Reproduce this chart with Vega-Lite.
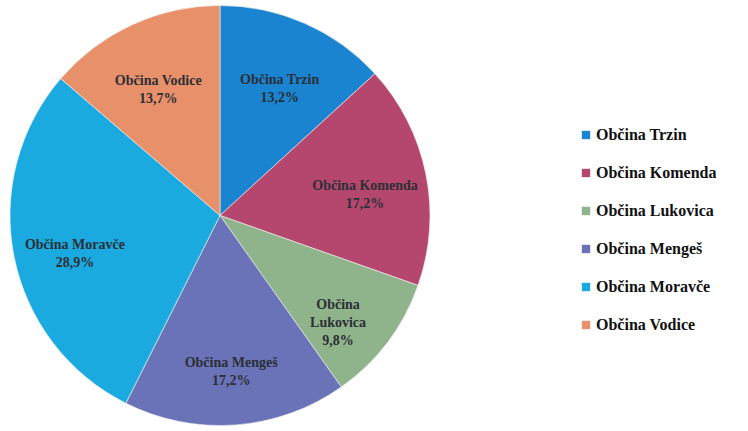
{
  "$schema": "https://vega.github.io/schema/vega-lite/v6.json",
  "width": 440,
  "height": 431,
  "padding": 0,
  "autosize": {"type": "pad"},
  "background": "white",
  "view": {"stroke": null},
  "data": {
    "values": [
      {"i": 1, "obcina": "Občina Trzin", "delez": 13.2, "label": "Občina Trzin\n13,2%"},
      {"i": 2, "obcina": "Občina Komenda", "delez": 17.2, "label": "Občina Komenda\n17,2%"},
      {"i": 3, "obcina": "Občina Lukovica", "delez": 9.8, "label": "Občina\nLukovica\n9,8%"},
      {"i": 4, "obcina": "Občina Mengeš", "delez": 17.2, "label": "Občina Mengeš\n17,2%"},
      {"i": 5, "obcina": "Občina Moravče", "delez": 28.9, "label": "Občina Moravče\n28,9%"},
      {"i": 6, "obcina": "Občina Vodice", "delez": 13.7, "label": "Občina Vodice\n13,7%"}
    ]
  },
  "encoding": {
    "theta": {"field": "delez", "type": "quantitative", "stack": true},
    "order": {"field": "i", "type": "quantitative"}
  },
  "layer": [
    {
      "mark": {"type": "arc", "outerRadius": 210, "stroke": "#f4f4f4", "strokeWidth": 0.6},
      "encoding": {
        "color": {
          "field": "obcina",
          "type": "nominal",
          "scale": {
            "domain": ["Občina Trzin", "Občina Komenda", "Občina Lukovica", "Občina Mengeš", "Občina Moravče", "Občina Vodice"],
            "range": ["#1a84d0", "#b5476e", "#8fb38a", "#6a72b8", "#1aaadf", "#e8906a"]
          },
          "legend": {
            "title": null,
            "orient": "none",
            "legendX": 578,
            "legendY": 127,
            "symbolType": "square",
            "symbolSize": 70,
            "symbolStrokeWidth": 0,
            "labelFont": "Times New Roman, Liberation Serif, DejaVu Serif, serif",
            "labelFontSize": 16,
            "labelFontWeight": "bold",
            "labelColor": "#111",
            "labelOffset": 2,
            "rowPadding": 22,
            "labelLimit": 300
          }
        }
      }
    },
    {
      "mark": {
        "type": "text",
        "radius": 148,
        "font": "Times New Roman, Liberation Serif, DejaVu Serif, serif",
        "fontSize": 14,
        "fontWeight": "bold",
        "color": "#2b2f36",
        "lineBreak": "\n",
        "lineHeight": 18,
        "align": "center",
        "baseline": "middle"
      },
      "encoding": {
        "text": {"field": "label", "type": "nominal"}
      }
    }
  ]
}
